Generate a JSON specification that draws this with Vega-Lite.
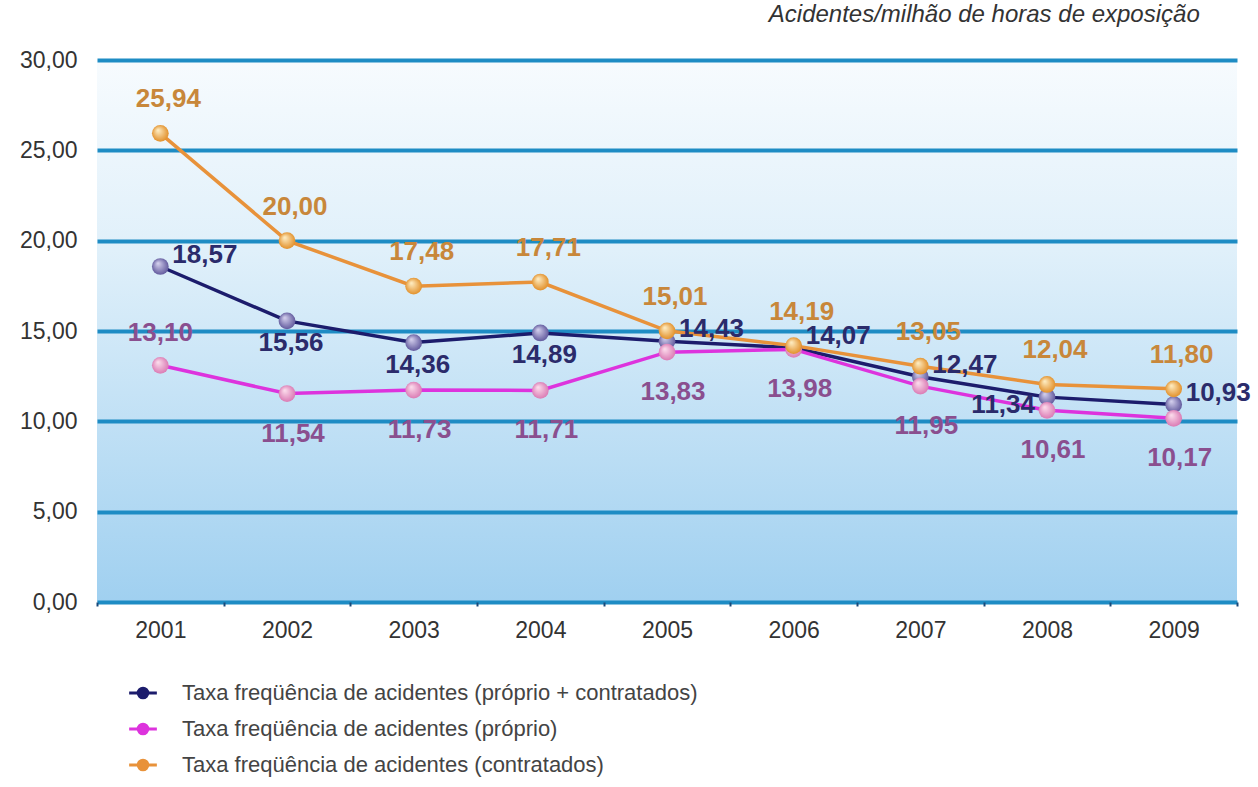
{
  "$schema": "https://vega.github.io/schema/vega-lite/v6.json",
  "autosize": "none",
  "width": 1140,
  "height": 542,
  "padding": {"left": 97, "top": 60, "right": 21, "bottom": 185},
  "background": "white",
  "config": {
    "font": "Liberation Sans",
    "locale": {"number": {"decimal": ",", "thousands": ".", "grouping": [3], "currency": ["R$", ""]}},
    "view": {
      "stroke": null,
      "fill": {
        "gradient": "linear",
        "x1": 0, "y1": 0, "x2": 0, "y2": 1,
        "stops": [
          {"offset": 0, "color": "#f7fbfe"},
          {"offset": 0.35, "color": "#e0f0fa"},
          {"offset": 1, "color": "#a0d0f0"}
        ]
      }
    }
  },
  "title": {
    "text": "Acidentes/milhão de horas de exposição",
    "anchor": "end",
    "fontStyle": "italic",
    "fontWeight": "normal",
    "fontSize": 24,
    "color": "#333333",
    "offset": 22,
    "dx": -51
  },
  "data": {
    "values": [
      {"year": "2001", "series": "Taxa freqüência de acidentes (próprio + contratados)", "value": 18.57},
      {"year": "2002", "series": "Taxa freqüência de acidentes (próprio + contratados)", "value": 15.56},
      {"year": "2003", "series": "Taxa freqüência de acidentes (próprio + contratados)", "value": 14.36},
      {"year": "2004", "series": "Taxa freqüência de acidentes (próprio + contratados)", "value": 14.89},
      {"year": "2005", "series": "Taxa freqüência de acidentes (próprio + contratados)", "value": 14.43},
      {"year": "2006", "series": "Taxa freqüência de acidentes (próprio + contratados)", "value": 14.07},
      {"year": "2007", "series": "Taxa freqüência de acidentes (próprio + contratados)", "value": 12.47},
      {"year": "2008", "series": "Taxa freqüência de acidentes (próprio + contratados)", "value": 11.34},
      {"year": "2009", "series": "Taxa freqüência de acidentes (próprio + contratados)", "value": 10.93},
      {"year": "2001", "series": "Taxa freqüência de acidentes (próprio)", "value": 13.10},
      {"year": "2002", "series": "Taxa freqüência de acidentes (próprio)", "value": 11.54},
      {"year": "2003", "series": "Taxa freqüência de acidentes (próprio)", "value": 11.73},
      {"year": "2004", "series": "Taxa freqüência de acidentes (próprio)", "value": 11.71},
      {"year": "2005", "series": "Taxa freqüência de acidentes (próprio)", "value": 13.83},
      {"year": "2006", "series": "Taxa freqüência de acidentes (próprio)", "value": 13.98},
      {"year": "2007", "series": "Taxa freqüência de acidentes (próprio)", "value": 11.95},
      {"year": "2008", "series": "Taxa freqüência de acidentes (próprio)", "value": 10.61},
      {"year": "2009", "series": "Taxa freqüência de acidentes (próprio)", "value": 10.17},
      {"year": "2001", "series": "Taxa freqüência de acidentes (contratados)", "value": 25.94},
      {"year": "2002", "series": "Taxa freqüência de acidentes (contratados)", "value": 20.00},
      {"year": "2003", "series": "Taxa freqüência de acidentes (contratados)", "value": 17.48},
      {"year": "2004", "series": "Taxa freqüência de acidentes (contratados)", "value": 17.71},
      {"year": "2005", "series": "Taxa freqüência de acidentes (contratados)", "value": 15.01},
      {"year": "2006", "series": "Taxa freqüência de acidentes (contratados)", "value": 14.19},
      {"year": "2007", "series": "Taxa freqüência de acidentes (contratados)", "value": 13.05},
      {"year": "2008", "series": "Taxa freqüência de acidentes (contratados)", "value": 12.04},
      {"year": "2009", "series": "Taxa freqüência de acidentes (contratados)", "value": 11.80}
    ]
  },
  "encoding": {
    "x": {
      "field": "year",
      "type": "ordinal",
      "scale": {"type": "band", "paddingInner": 0, "paddingOuter": 0},
      "axis": {
        "title": null,
        "labelAngle": 0,
        "labelFontSize": 23,
        "labelColor": "#333333",
        "labelPadding": 13,
        "domain": false,
        "ticks": true,
        "tickBand": "extent",
        "tickSize": 4,
        "tickWidth": 2,
        "tickColor": "#1a4a7a",
        "grid": false
      }
    },
    "y": {
      "field": "value",
      "type": "quantitative",
      "scale": {"domain": [0, 30], "nice": false},
      "axis": {
        "title": null,
        "values": [0, 5, 10, 15, 20, 25, 30],
        "format": ".2f",
        "labelFontSize": 23,
        "labelColor": "#333333",
        "labelPadding": 20,
        "domain": false,
        "ticks": false,
        "grid": true,
        "gridColor": "#1e8cc4",
        "gridWidth": 4,
        "gridOpacity": 1
      }
    }
  },
  "layer": [
    {
      "mark": {"type": "line", "strokeWidth": 3.5},
      "encoding": {
        "color": {
          "field": "series",
          "type": "nominal",
          "scale": {
            "domain": [
              "Taxa freqüência de acidentes (próprio + contratados)",
              "Taxa freqüência de acidentes (próprio)",
              "Taxa freqüência de acidentes (contratados)"
            ],
            "range": ["#1c1c6c", "#dd33dd", "#e8923a"]
          },
          "legend": {
            "title": null,
            "orient": "none",
            "legendX": 35,
            "legendY": 622,
            "direction": "vertical",
            "padding": 0,
            "labelFontSize": 22,
            "labelLimit": 0,
            "labelColor": "#444444",
            "labelOffset": 28,
            "rowPadding": 14,
            "symbolType": "M-1.6,0L-0.55,0M0.55,0L1.6,0M-0.55,0A0.55,0.55,0,1,1,0.55,0A0.55,0.55,0,1,1,-0.55,0Z",
            "symbolSize": 300,
            "symbolStrokeWidth": 3,
            "encode": {
              "symbols": {"update": {"fill": {"scale": "color", "field": "value"}}}
            }
          }
        }
      }
    },
    {
      "transform": [{"filter": "datum.series === 'Taxa freqüência de acidentes (próprio + contratados)'"}],
      "mark": {
        "type": "point", "filled": true, "size": 280, "opacity": 1,
        "fill": {
          "gradient": "radial", "x1": 0.35, "y1": 0.3, "r1": 0, "x2": 0.5, "y2": 0.5, "r2": 0.55,
          "stops": [{"offset": 0, "color": "#d8d4f0"}, {"offset": 1, "color": "#5a5298"}]
        }
      }
    },
    {
      "transform": [{"filter": "datum.series === 'Taxa freqüência de acidentes (próprio)'"}],
      "mark": {
        "type": "point", "filled": true, "size": 280, "opacity": 1,
        "fill": {
          "gradient": "radial", "x1": 0.35, "y1": 0.3, "r1": 0, "x2": 0.5, "y2": 0.5, "r2": 0.55,
          "stops": [{"offset": 0, "color": "#fde0ee"}, {"offset": 1, "color": "#d874b0"}]
        }
      }
    },
    {
      "transform": [{"filter": "datum.series === 'Taxa freqüência de acidentes (contratados)'"}],
      "mark": {
        "type": "point", "filled": true, "size": 280, "opacity": 1,
        "fill": {
          "gradient": "radial", "x1": 0.35, "y1": 0.3, "r1": 0, "x2": 0.5, "y2": 0.5, "r2": 0.55,
          "stops": [{"offset": 0, "color": "#fff0c8"}, {"offset": 1, "color": "#e08a20"}]
        }
      }
    },
    {
      "transform": [{"filter": "datum.series === 'Taxa freqüência de acidentes (contratados)'"}],
      "mark": {"type": "text", "fontSize": 26, "fontWeight": "bold", "color": "#c8873a", "dy": -34, "dx": 8},
      "encoding": {"text": {"field": "value", "type": "quantitative", "format": ".2f"}}
    },
    {
      "transform": [
        {"filter": "datum.series === 'Taxa freqüência de acidentes (próprio)'"},
        {"filter": "datum.year === '2001'"}
      ],
      "mark": {"type": "text", "fontSize": 26, "fontWeight": "bold", "color": "#8a4f8f", "dy": -32},
      "encoding": {"text": {"field": "value", "type": "quantitative", "format": ".2f"}}
    },
    {
      "transform": [
        {"filter": "datum.series === 'Taxa freqüência de acidentes (próprio)'"},
        {"filter": "datum.year !== '2001'"}
      ],
      "mark": {"type": "text", "fontSize": 26, "fontWeight": "bold", "color": "#8a4f8f", "dy": 40, "dx": 6},
      "encoding": {"text": {"field": "value", "type": "quantitative", "format": ".2f"}}
    },
    {
      "transform": [
        {"filter": "datum.series === 'Taxa freqüência de acidentes (próprio + contratados)'"},
        {"filter": "indexof(['2001','2005','2006','2007','2009'], datum.year) >= 0"}
      ],
      "mark": {"type": "text", "fontSize": 26, "fontWeight": "bold", "color": "#2b2b6b", "align": "left", "dx": 12, "dy": -12},
      "encoding": {"text": {"field": "value", "type": "quantitative", "format": ".2f"}}
    },
    {
      "transform": [
        {"filter": "datum.series === 'Taxa freqüência de acidentes (próprio + contratados)'"},
        {"filter": "indexof(['2002','2003','2004'], datum.year) >= 0"}
      ],
      "mark": {"type": "text", "fontSize": 26, "fontWeight": "bold", "color": "#2b2b6b", "dy": 22, "dx": 4},
      "encoding": {"text": {"field": "value", "type": "quantitative", "format": ".2f"}}
    },
    {
      "transform": [
        {"filter": "datum.series === 'Taxa freqüência de acidentes (próprio + contratados)'"},
        {"filter": "datum.year === '2008'"}
      ],
      "mark": {"type": "text", "fontSize": 26, "fontWeight": "bold", "color": "#2b2b6b", "align": "right", "dx": -12, "dy": 8},
      "encoding": {"text": {"field": "value", "type": "quantitative", "format": ".2f"}}
    }
  ]
}
